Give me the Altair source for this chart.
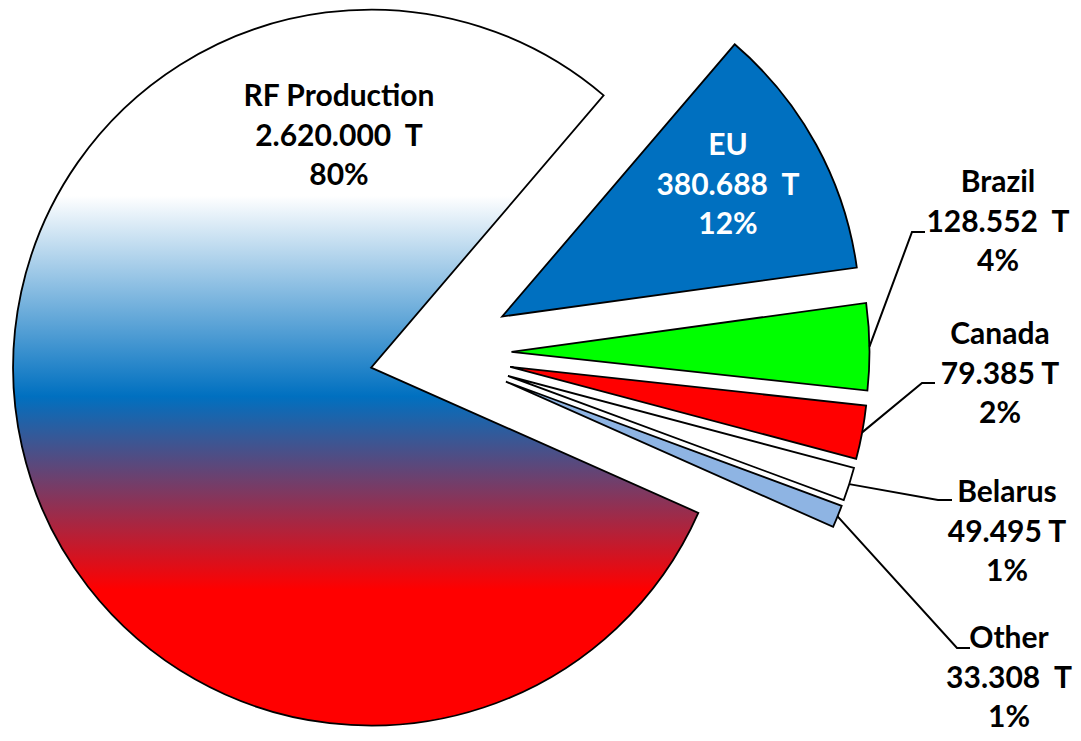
import math
import altair as alt
import pandas as pd

# ---------------- data ----------------
names = ["EU", "Brazil", "Canada", "Belarus", "Other", "RF Production"]
values = [380688, 128552, 79385, 49495, 33308, 2620000]
percent_labels = ["12%", "4%", "2%", "1%", "1%", "80%"]
unit_gaps = [2, 2, 1, 1, 2, 2]          # spaces between number and "T" in the labels

# ---------------- styling / layout ----------------
W, H = 1065, 725
CX, CY = 427.5, 345.0                    # pie centre (pixels, chart coords)
R = 358                                  # pie radius
START_DEG = 40.5                         # angle of first slice edge (clockwise from 12 o'clock)
EXPLODE = {"RF Production": 66}          # explosion distance per slice
EXPLODE_DEFAULT = 76
SLICE_COLORS = {"EU": "#0070C0", "Brazil": "#00FF00", "Canada": "#FF0000",
                "Belarus": "#FFFFFF", "Other": "#8EB4E3"}
LABEL_POS = {                            # first-line centres of label blocks (manual placement)
    "RF Production": (331, 89),
    "EU": (720, 138),
    "Brazil": (990, 175),
    "Canada": (992, 327),
    "Belarus": (999, 485),
    "Other": (1001, 631),
}
LEADER_ELBOW = {                         # leader line elbow and end (at label)
    "Brazil": [(904, 224), (917, 224)],
    "Canada": [(914, 375), (927, 375)],
    "Belarus": [(930, 492), (944, 492)],
    "Other": [(949, 640), (962, 640)],
}
LABEL_COLOR = {"EU": "white"}
FONT = "Lato"

# ---------------- derived table ----------------
total = sum(values)
start0 = math.radians(START_DEG)
rows = []
cum = 0
for n, v, p, g in zip(names, values, percent_labels, unit_gaps):
    s, e = cum, cum + v
    cum = e
    mid = start0 + (s + e) / 2 / total * 2 * math.pi
    d = EXPLODE.get(n, EXPLODE_DEFAULT)
    num = f"{v:,}".replace(",", ".")
    gap = "\u00a0" * (g - 1) + " " if g > 1 else " "
    rows.append(dict(
        name=n, value=v, start=s, end=e, mid=mid,
        cx=CX + d * math.sin(mid), cy=CY - d * math.cos(mid),
        label=f"{n}\n{num}{gap}T\n{p}",
        tx=LABEL_POS[n][0], ty=LABEL_POS[n][1],
        tcolor=LABEL_COLOR.get(n, "black"),
    ))
df = pd.DataFrame(rows)

leader_rows = []
for r in rows:
    if r["name"] in LEADER_ELBOW:
        d = EXPLODE.get(r["name"], EXPLODE_DEFAULT)
        sx = CX + (d + R) * math.sin(r["mid"])
        sy = CY - (d + R) * math.cos(r["mid"])
        pts = [(sx, sy)] + LEADER_ELBOW[r["name"]]
        for i, (px, py) in enumerate(pts):
            leader_rows.append(dict(name=r["name"], order=i, px=px, py=py))
leaders = pd.DataFrame(leader_rows)

theta_scale = alt.Scale(domain=[0, total], range=[start0, start0 + 2 * math.pi])
xpix = alt.X("cx:Q", scale=None, axis=None)
ypix = alt.Y("cy:Q", scale=None, axis=None)

base = alt.Chart(df)

small = base.transform_filter(alt.datum.name != "RF Production").mark_arc(
    radius=R, stroke="black", strokeWidth=1.8
).encode(
    theta=alt.Theta("start:Q", scale=theta_scale),
    theta2="end:Q",
    x=xpix, y=ypix,
    color=alt.Color("name:N", scale=alt.Scale(domain=list(SLICE_COLORS.keys()),
                                              range=list(SLICE_COLORS.values())), legend=None),
)

gradient = alt.LinearGradient(
    gradient="linear", x1=0, y1=0, x2=0, y2=1,
    stops=[
        alt.GradientStop(offset=0, color="#FFFFFF"),
        alt.GradientStop(offset=0.26, color="#FFFFFF"),
        alt.GradientStop(offset=0.54, color="#0070C0"),
        alt.GradientStop(offset=0.81, color="#FF0000"),
        alt.GradientStop(offset=1, color="#FF0000"),
    ],
)

rf = base.transform_filter(alt.datum.name == "RF Production").mark_arc(
    radius=R, stroke="black", strokeWidth=1.8, fill=gradient
).encode(
    theta=alt.Theta("start:Q", scale=theta_scale),
    theta2="end:Q",
    x=xpix, y=ypix,
)

lines = alt.Chart(leaders).mark_line(stroke="black", strokeWidth=2).encode(
    x=alt.X("px:Q", scale=None, axis=None),
    y=alt.Y("py:Q", scale=None, axis=None),
    detail="name:N",
    order="order:Q",
)

texts = base.mark_text(
    lineBreak="\n", font=FONT, fontWeight="bold", fontSize=30,
    align="center", baseline="middle", lineHeight=39.5,
).encode(
    x=alt.X("tx:Q", scale=None, axis=None),
    y=alt.Y("ty:Q", scale=None, axis=None),
    text="label:N",
    color=alt.Color("tcolor:N", scale=None),
)

chart = alt.layer(small, rf, lines, texts).properties(
    width=W, height=H, autosize="none", padding=0, background="white"
).configure_view(strokeWidth=0)

chart.save("out.html", embed_options={"renderer": "svg", "actions": False})
